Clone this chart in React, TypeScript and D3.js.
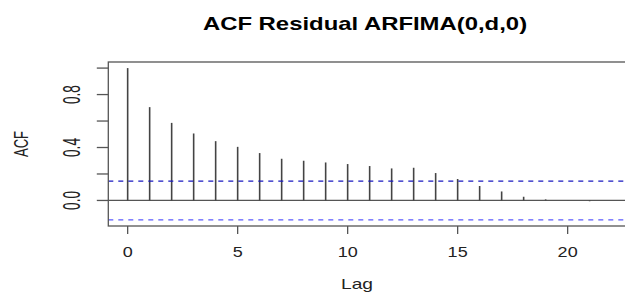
import React from "react";
import * as d3 from "d3";

const lags = [0,1,2,3,4,5,6,7,8,9,10,11,12,13,14,15,16,17,18,19,20,21,22];
const acfValues = [1.0,0.705,0.586,0.506,0.448,0.405,0.358,0.315,0.30,0.287,0.275,0.26,0.242,0.247,0.207,0.162,0.109,0.068,0.028,0.008,0.001,-0.006,0.0];
const ciLimit = 0.146;
const xTicks = [0,5,10,15,20];
const yTicks = [0,0.2,0.4,0.6,0.8,1.0];
const yLabels = [0,0.4,0.8];
const title = "ACF Residual ARFIMA(0,d,0)";

export default function App() {
  const W = 625, H = 293;
  const left = 108.3, right = 631, top = 62, bottom = 226;
  const xmin = -0.88, xmax = 22.88;
  const ymin = -0.193, ymax = 1.046;
  const x = d3.scaleLinear().domain([xmin, xmax]).range([left, right]);
  const y = d3.scaleLinear().domain([ymin, ymax]).range([bottom, top]);
  const font = "'Liberation Sans', Arial, sans-serif";
  const hs = (cx: number, s: number) => `translate(${cx},0) scale(${s},1) translate(${-cx},0)`;
  return (
    <svg width={W} height={H} style={{ position: "absolute", left: 0, top: 0, background: "#fff" }}>
      <text x={365} y={30} textAnchor="middle" fontFamily={font} fontWeight="bold" fontSize={17.7} transform={hs(365, 1.35)} fill="#000">{title}</text>
      {/* zero line */}
      <line x1={left} x2={right} y1={y(0)} y2={y(0)} stroke="#555" strokeWidth={1.2} />
      {/* bars */}
      {lags.map((l, i) => (
        <line key={l} x1={x(l)} x2={x(l)} y1={y(0)} y2={y(acfValues[i])} stroke="#444" strokeWidth={1.6} />
      ))}
      {/* CI lines */}
      <line x1={left} x2={right} y1={y(ciLimit)} y2={y(ciLimit)} stroke="#1818c0" strokeWidth={1.1} strokeDasharray="5,5" />
      <line x1={left} x2={right} y1={y(-ciLimit)} y2={y(-ciLimit)} stroke="#5a5aff" strokeWidth={1.3} strokeDasharray="5,5" />
      {/* box */}
      <rect x={left} y={top} width={right - left} height={bottom - top} fill="none" stroke="#555" strokeWidth={1.3} />
      {/* x axis */}
      {xTicks.map(t => (
        <g key={t}>
          <line x1={x(t)} x2={x(t)} y1={bottom} y2={bottom + 8} stroke="#555" strokeWidth={1.3} />
          <text x={x(t)} y={257} textAnchor="middle" fontFamily={font} fontSize={15.4} transform={hs(x(t), 1.17)} fill="#222">{t}</text>
        </g>
      ))}
      <text x={357} y={289} textAnchor="middle" fontFamily={font} fontSize={15} transform={hs(357, 1.28)} fill="#222">Lag</text>
      {/* y axis */}
      {yTicks.map(t => (
        <line key={t} x1={left - 11.5} x2={left} y1={y(t)} y2={y(t)} stroke="#555" strokeWidth={1.3} />
      ))}
      {yLabels.map(t => (
        <text key={t} x={0} y={0} textAnchor="middle" dominantBaseline="central" fontFamily={font} fontSize={13.7} fill="#222"
          transform={`translate(${71.7},${y(t)}) rotate(-90) scale(1,1.7)`}>{t.toFixed(1)}</text>
      ))}
      <text x={0} y={0} textAnchor="middle" dominantBaseline="central" fontFamily={font} fontSize={13} fill="#222"
        transform={`translate(${21.7},${144}) rotate(-90) scale(1,1.5)`}>ACF</text>
    </svg>
  );
}
